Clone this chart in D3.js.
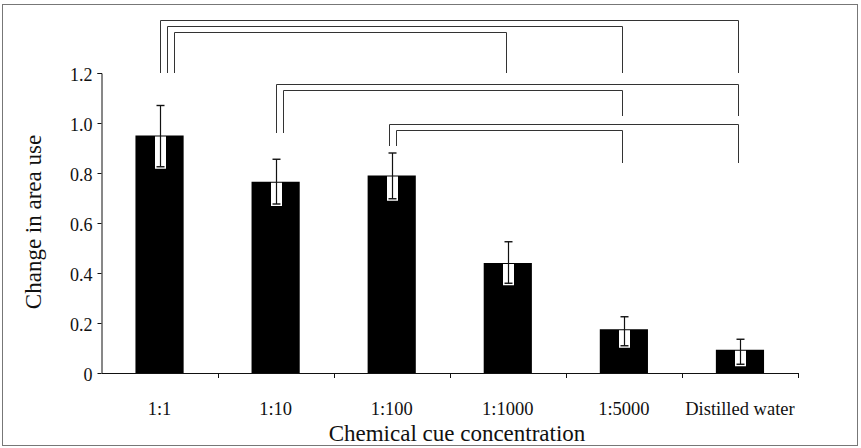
<!DOCTYPE html>
<html>
<head>
<meta charset="utf-8">
<script src="https://cdn.jsdelivr.net/npm/d3@7"></script>
<style>
  html, body { margin: 0; padding: 0; background: #fff; }
  svg { display: block; }
</style>
</head>
<body>
<svg id="chart" width="861" height="448"></svg>
<script>
// ---- data ----
const categories = ["1:1", "1:10", "1:100", "1:1000", "1:5000", "Distilled water"];
const means      = [0.95, 0.765, 0.79, 0.44, 0.175, 0.093];
const errHigh    = [1.07, 0.855, 0.88, 0.525, 0.225, 0.135];
const errLow     = [0.825, 0.676, 0.697, 0.359, 0.109, 0.035];
const yTicks     = [0, 0.2, 0.4, 0.6, 0.8, 1.0, 1.2];
const yTickLabels = ["0", "0.2", "0.4", "0.6", "0.8", "1.0", "1.2"];
const xTitle = "Chemical cue concentration";
const yTitle = "Change in area use";

// significance brackets
const bracketFrom   = ["1:1", "1:1", "1:1", "1:10", "1:10", "1:100", "1:100"];
const bracketTo     = ["Distilled water", "1:5000", "1:1000", "Distilled water", "1:5000", "Distilled water", "1:5000"];
const bracketLevel  = [1.412, 1.389, 1.365, 1.157, 1.134, 0.998, 0.974];
const bracketFromEnd = [1.2, 1.2, 1.2, 0.96, 0.96, 0.908, 0.908];
const bracketToEnd   = [1.2, 1.2, 1.2, 1.028, 1.028, 0.84, 0.84];

// ---- layout ----
const FONT = "Liberation Serif";
const svg = d3.select("#chart");
const m = { left: 101.5, right: 798, top: 73, bottom: 373 };

const x = d3.scaleBand().domain(categories).range([m.left, m.right]).paddingInner(0.585).paddingOuter(0.2925);
const xb = d3.scaleBand().domain(categories).range([m.left, m.right]);
const y = d3.scaleLinear().domain([0, 1.2]).range([m.bottom, m.top]);

// frame
svg.append("rect").attr("x", 2.5).attr("y", 4.5).attr("width", 855).attr("height", 441)
  .attr("fill", "none").attr("stroke", "#777").attr("stroke-width", 1);

// bars
svg.append("g").selectAll("rect").data(categories).join("rect")
  .attr("x", d => x(d)).attr("y", (d, i) => y(means[i]))
  .attr("width", x.bandwidth()).attr("height", (d, i) => y(0) - y(means[i]))
  .attr("fill", "#000");

// error bars
const eg = svg.append("g");
categories.forEach((c, i) => {
  const cx = Math.round(xb(c) + xb.bandwidth() / 2) + 0.5;
  const capW = 4;
  eg.append("rect").attr("x", cx - 5.5).attr("y", y(means[i]) + 1)
    .attr("width", 11).attr("height", y(errLow[i]) + 2 - y(means[i]) - 1).attr("fill", "#fff");
  eg.append("line").attr("x1", cx).attr("x2", cx).attr("y1", y(errHigh[i])).attr("y2", y(errLow[i]))
    .attr("stroke", "#111").attr("stroke-width", 1.2);
  [errHigh[i], errLow[i]].forEach(v => {
    eg.append("line").attr("x1", cx - capW).attr("x2", cx + capW).attr("y1", y(v)).attr("y2", y(v))
      .attr("stroke", "#111").attr("stroke-width", 1.4);
  });
});

// y axis
const yAxis = d3.axisLeft(y).tickValues(yTicks).tickFormat((d, i) => yTickLabels[i]).tickSize(4).tickPadding(5);
const gy = svg.append("g").attr("transform", `translate(${m.left},0)`).call(yAxis);
gy.select(".domain").attr("stroke", "#111").attr("d", `M-4,${m.top}.5H0.5V${m.bottom}`);
gy.selectAll(".tick line").attr("stroke", "#111");
gy.selectAll(".tick text").style("font-family", FONT).style("font-size", "18px").attr("fill", "#111").attr("dy", "0.4em");

// x axis (ticks between categories)
const gx = svg.append("g").attr("transform", `translate(0,${m.bottom})`);
gx.append("line").attr("x1", m.left).attr("x2", m.right).attr("y1", 0.5).attr("y2", 0.5).attr("stroke", "#111");
const bounds = categories.map(c => xb(c)).concat([m.right]).slice(1);
gx.selectAll("line.tk").data(bounds).join("line").attr("class", "tk")
  .attr("x1", d => Math.round(d) + 0.5).attr("x2", d => Math.round(d) + 0.5)
  .attr("y1", 0).attr("y2", 5).attr("stroke", "#111");
gx.selectAll("text").data(categories).join("text")
  .attr("x", d => xb(d) + xb.bandwidth() / 2).attr("y", 42)
  .attr("text-anchor", "middle").attr("fill", "#111")
  .style("font-family", FONT).style("font-size", "18.5px").text(d => d);

// axis titles
svg.append("text").attr("x", 457).attr("y", 441).attr("text-anchor", "middle").attr("fill", "#111")
  .style("font-family", FONT).style("font-size", "23px").text(xTitle);
svg.append("text").attr("transform", "translate(41,222) rotate(-90)").attr("text-anchor", "middle").attr("fill", "#111")
  .style("font-family", FONT).style("font-size", "23px").text(yTitle);

// brackets
const bg = svg.append("g").attr("fill", "none").attr("stroke", "#333").attr("stroke-width", 1);
const fromCount = {};
const fromStart = { "1:1": 0, "1:10": 0, "1:100": -2.5 };
bracketFrom.forEach((f, i) => {
  const k = fromCount[f] = (fromCount[f] === undefined ? 0 : fromCount[f] + 1);
  const x0 = Math.round(xb(f) + xb.bandwidth() / 2 + fromStart[f] + k * 7) + 0.5;
  const x1 = Math.round(xb(bracketTo[i]) + xb.bandwidth() / 2 - 1.5) + 0.5;
  const yl = Math.round(y(bracketLevel[i])) + 0.5;
  bg.append("path").attr("d", `M${x0},${y(bracketFromEnd[i])}V${yl}H${x1}V${y(bracketToEnd[i])}`);
});
</script>
</body>
</html>
